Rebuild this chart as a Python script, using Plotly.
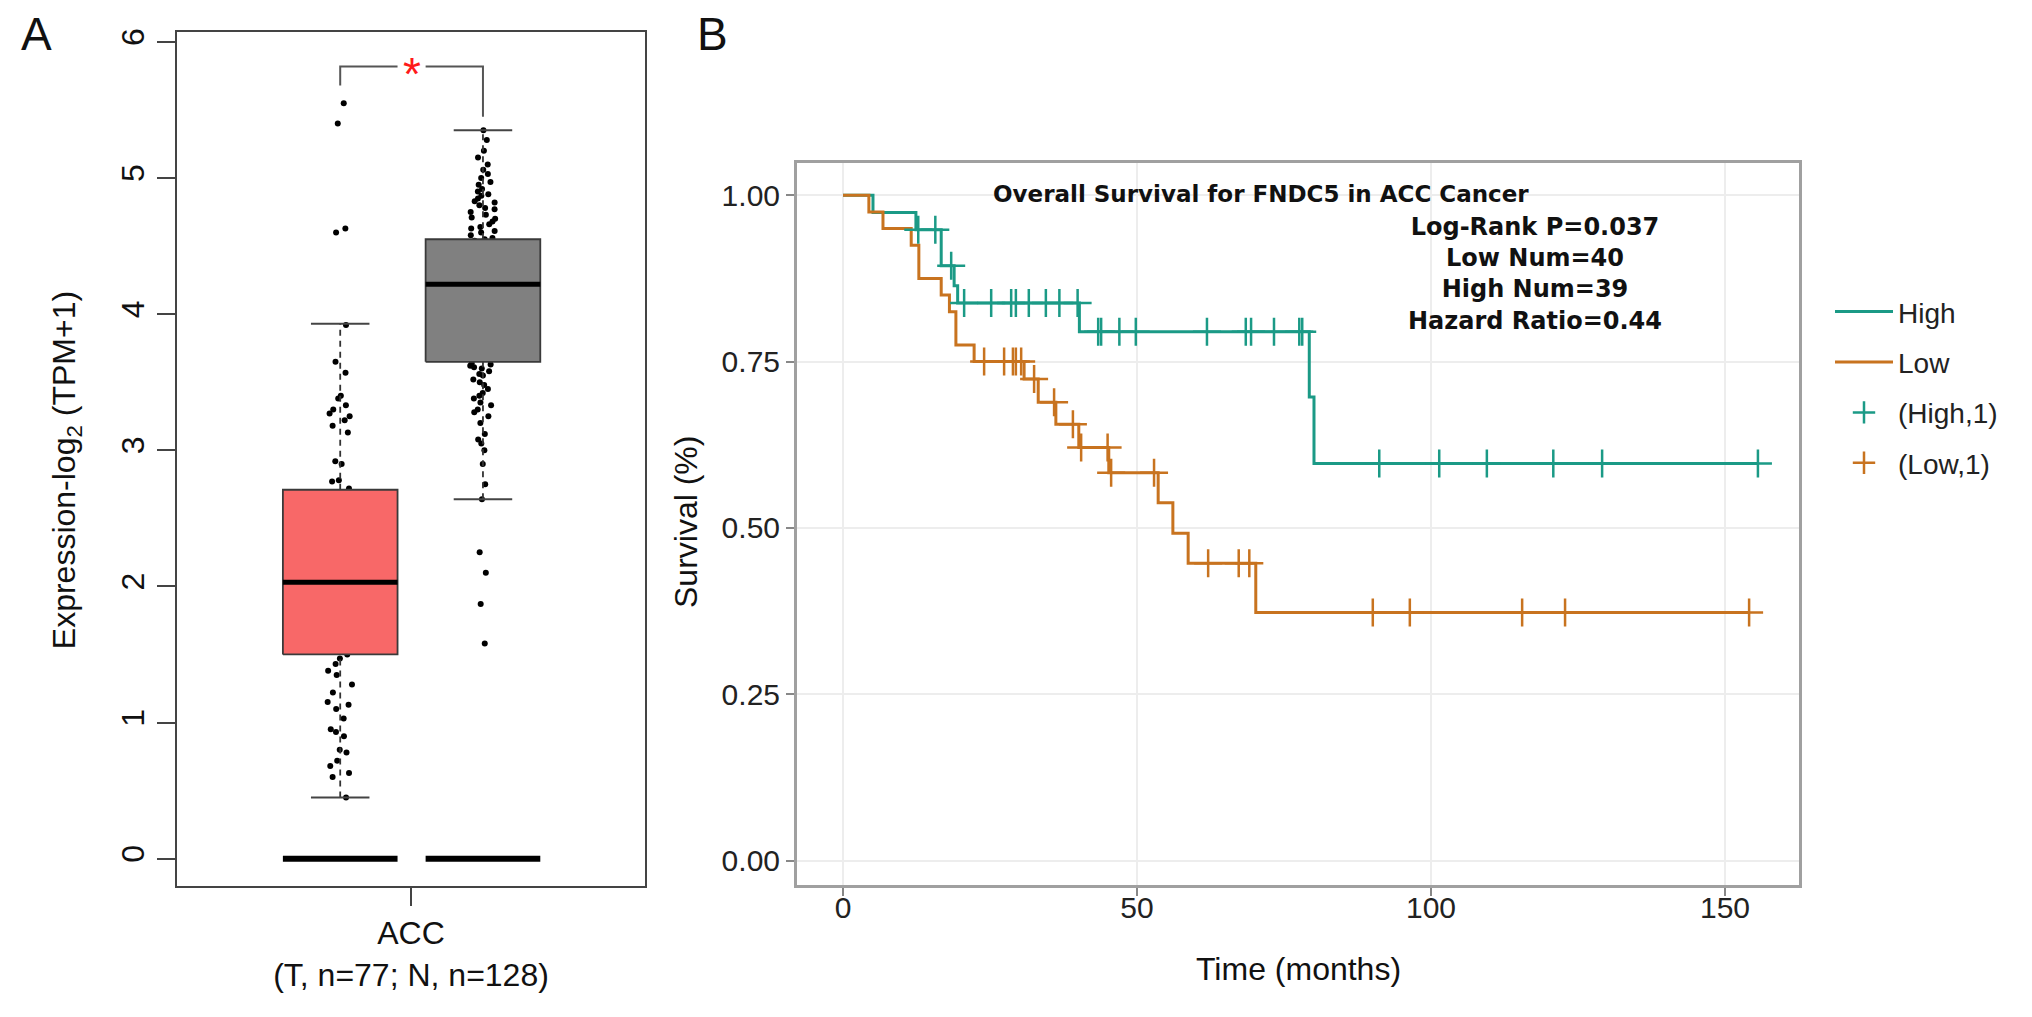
import plotly.graph_objects as go

W, H = 2032, 1017

# ---------------- Panel A data (expression box plot) ----------------
group_names = ["Tumor", "Normal"]
box_q1 = [1.50, 3.65]
box_median = [2.03, 4.22]
box_q3 = [2.71, 4.55]
whisker_low = [0.45, 2.64]
whisker_high = [3.93, 5.35]
zero_level = [0.0, 0.0]
box_fill = ["#F86868", "#808080"]

tumor_points = [0.45, 0.60, 0.63, 0.68, 0.72, 0.78, 0.80, 0.90, 0.93, 0.95,
                1.03, 1.10, 1.13, 1.15, 1.22, 1.28, 1.35, 1.38, 1.43, 1.47,
                1.50, 1.52, 1.55, 1.58, 1.60, 1.62, 1.63, 1.68, 1.72, 1.75,
                1.80, 1.82, 1.85, 1.88, 1.90, 1.92, 1.93, 1.97, 2.02,
                2.05, 2.07, 2.10, 2.15, 2.18, 2.22, 2.25, 2.28, 2.30, 2.35,
                2.38, 2.42, 2.45, 2.50, 2.58, 2.62, 2.68,
                2.72, 2.77, 2.78, 2.90, 2.92, 3.13, 3.18, 3.22, 3.25, 3.27,
                3.30, 3.33, 3.38, 3.40, 3.57, 3.65, 3.92, 4.60, 4.63, 5.40, 5.55]

normal_points = [1.58, 1.87, 2.10, 2.25, 2.64, 2.75, 2.90, 3.00, 3.05, 3.08,
                 3.12, 3.20, 3.25, 3.28, 3.30, 3.33, 3.35, 3.38, 3.40, 3.42,
                 3.45, 3.48, 3.50, 3.52, 3.55, 3.56, 3.58, 3.60, 3.61, 3.62,
                 3.63, 3.64,
                 3.66, 3.67, 3.70, 3.71, 3.74, 3.77, 3.78, 3.80, 3.83, 3.85,
                 3.86, 3.88, 3.91, 3.93, 3.95, 3.96, 3.99, 4.01, 4.02, 4.05,
                 4.06, 4.08, 4.10, 4.11, 4.13, 4.15, 4.16, 4.18, 4.19, 4.20,
                 4.21, 4.22,
                 4.23, 4.23, 4.25, 4.26, 4.26, 4.28, 4.30, 4.31, 4.31, 4.33,
                 4.34, 4.36, 4.37, 4.37, 4.39, 4.40, 4.41, 4.42, 4.44, 4.44,
                 4.46, 4.47, 4.48, 4.49, 4.50, 4.50, 4.51, 4.52, 4.53, 4.53,
                 4.54, 4.55,
                 4.56, 4.58, 4.60, 4.61, 4.63, 4.64, 4.66, 4.68, 4.70, 4.71,
                 4.73, 4.75, 4.77, 4.78, 4.80, 4.82, 4.83, 4.85, 4.87, 4.88,
                 4.90, 4.92, 4.95, 4.97, 5.00, 5.03, 5.06, 5.10, 5.15, 5.20,
                 5.28, 5.35]

a_yticks = [0, 1, 2, 3, 4, 5, 6]
a_category = "ACC<br>(T, n=77; N, n=128)"
bracket_level = 5.82
bracket_left_end = 5.68
bracket_right_end = 5.45
significance = "*"

# ---------------- Panel B data (Kaplan-Meier) ----------------
high_time = [0, 5.1, 12.4, 16.7, 18.9, 19.5, 40.2, 79.3, 80.1, 155.6]
high_surv = [1.00, 0.974, 0.948, 0.894, 0.864, 0.838, 0.795, 0.697, 0.597, 0.597]
low_time = [0, 4.4, 6.8, 11.6, 12.9, 16.7, 18.1, 19.2, 22.3, 30.8, 33.2, 36.2,
            40.1, 45.2, 53.6, 56.1, 58.7, 70.2, 154.1]
low_surv = [1.00, 0.975, 0.950, 0.925, 0.875, 0.850, 0.825, 0.775, 0.750, 0.724,
            0.689, 0.656, 0.621, 0.583, 0.538, 0.492, 0.447, 0.373, 0.373]

high_cens_time = [12.8, 15.7, 18.4, 20.6, 25.2, 28.6, 29.4, 31.6, 34.5, 36.8, 39.9,
                  43.4, 43.9, 47.0, 49.8, 61.9, 68.5, 69.4, 73.3, 77.6, 78.1,
                  91.2, 101.4, 109.5, 120.8, 129.1, 155.6]
high_cens_surv = [0.948, 0.948, 0.894, 0.838, 0.838, 0.838, 0.838, 0.838, 0.838, 0.838, 0.838,
                  0.795, 0.795, 0.795, 0.795, 0.795, 0.795, 0.795, 0.795, 0.795, 0.795,
                  0.597, 0.597, 0.597, 0.597, 0.597, 0.597]
low_cens_time = [24.0, 27.4, 28.9, 29.4, 30.3, 32.5, 35.9, 39.1, 40.5, 45.0, 45.6, 52.9,
                 62.1, 67.3, 69.1, 90.1, 96.4, 115.5, 122.8, 154.1]
low_cens_surv = [0.750, 0.750, 0.750, 0.750, 0.750, 0.724, 0.689, 0.656, 0.621, 0.621,
                 0.583, 0.583, 0.447, 0.447, 0.447, 0.373, 0.373, 0.373, 0.373, 0.373]

b_xticks = [0, 50, 100, 150]
b_yticks = [0, 0.25, 0.5, 0.75, 1.0]
title_line = "Overall Survival for FNDC5 in ACC Cancer"
stats_lines = ["Log-Rank P=0.037", "Low Num=40", "High Num=39", "Hazard Ratio=0.44"]

TEAL = "#1B9A86"
ORANGE = "#C8731F"
FONT = "Liberation Sans, Arial, sans-serif"
BOLDFONT = "DejaVu Sans"

# ---------------- geometry helpers ----------------
def px(x):
    return x / W

def py(y):
    return 1 - y / H

fig = go.Figure()

# Panel A positions (data units on xaxis 0..8)
centers = [2.79, 5.23]
half_w = 0.98
cap_w = 0.50

for i in range(2):
    c = centers[i]
    fig.add_trace(go.Scatter(x=[c, c], y=[box_q3[i], whisker_high[i]], mode="lines",
                             line=dict(color="#333333", width=1.8, dash="6px,5px"),
                             showlegend=False, hoverinfo="skip", xaxis="x", yaxis="y"))
    fig.add_trace(go.Scatter(x=[c, c], y=[whisker_low[i], box_q1[i]], mode="lines",
                             line=dict(color="#333333", width=1.8, dash="6px,5px"),
                             showlegend=False, hoverinfo="skip", xaxis="x", yaxis="y"))
    for v in (whisker_low[i], whisker_high[i]):
        fig.add_trace(go.Scatter(x=[c - cap_w, c + cap_w], y=[v, v], mode="lines",
                                 line=dict(color="#444444", width=2),
                                 showlegend=False, hoverinfo="skip", xaxis="x", yaxis="y"))
    fig.add_trace(go.Scatter(x=[c - half_w, c + half_w, c + half_w, c - half_w, c - half_w],
                             y=[box_q1[i], box_q1[i], box_q3[i], box_q3[i], box_q1[i]],
                             mode="lines", fill="toself", fillcolor=box_fill[i],
                             line=dict(color="#3a3a3a", width=1.8),
                             showlegend=False, hoverinfo="skip", xaxis="x", yaxis="y"))
    fig.add_trace(go.Scatter(x=[c - half_w, c + half_w], y=[box_median[i], box_median[i]],
                             mode="lines", line=dict(color="#000000", width=5),
                             showlegend=False, hoverinfo="skip", xaxis="x", yaxis="y"))
    fig.add_trace(go.Scatter(x=[c - half_w, c + half_w], y=[zero_level[i], zero_level[i]],
                             mode="lines", line=dict(color="#000000", width=6),
                             showlegend=False, hoverinfo="skip", xaxis="x", yaxis="y"))

for i, pts in enumerate([tumor_points, normal_points]):
    fig.add_trace(go.Box(y=pts, x0=centers[i], width=0.6, boxpoints="all", jitter=1.0,
                         pointpos=0, fillcolor="rgba(0,0,0,0)",
                         line=dict(width=0, color="rgba(0,0,0,0)"),
                         marker=dict(color="#000000", size=6), showlegend=False,
                         hoverinfo="y", xaxis="x", yaxis="y", name=group_names[i]))

mid = (centers[0] + centers[1]) / 2
gap = 0.24
fig.add_trace(go.Scatter(x=[centers[0], centers[0], mid - gap],
                         y=[bracket_left_end, bracket_level, bracket_level],
                         mode="lines", line=dict(color="#555555", width=2),
                         showlegend=False, hoverinfo="skip", xaxis="x", yaxis="y"))
fig.add_trace(go.Scatter(x=[mid + gap, centers[1], centers[1]],
                         y=[bracket_level, bracket_level, bracket_right_end],
                         mode="lines", line=dict(color="#555555", width=2),
                         showlegend=False, hoverinfo="skip", xaxis="x", yaxis="y"))

# ---------------- Panel B traces ----------------
fig.add_trace(go.Scatter(x=high_time, y=high_surv, mode="lines", name="High",
                         line=dict(shape="hv", color=TEAL, width=3),
                         legendgroup="g1", xaxis="x2", yaxis="y2"))
fig.add_trace(go.Scatter(x=low_time, y=low_surv, mode="lines", name="Low",
                         line=dict(shape="hv", color=ORANGE, width=3),
                         legendgroup="g2", xaxis="x2", yaxis="y2"))
fig.add_trace(go.Scatter(x=high_cens_time, y=high_cens_surv, mode="markers", name="(High,1)",
                         marker=dict(symbol="cross-thin", size=20, color=TEAL,
                                     line=dict(width=2.5, color=TEAL)),
                         legendgroup="g3", xaxis="x2", yaxis="y2"))
fig.add_trace(go.Scatter(x=low_cens_time, y=low_cens_surv, mode="markers", name="(Low,1)",
                         marker=dict(symbol="cross-thin", size=20, color=ORANGE,
                                     line=dict(width=2.5, color=ORANGE)),
                         legendgroup="g4", xaxis="x2", yaxis="y2"))

def note(text, x, y, size, family=FONT, angle=0, weight="normal", color="#111111", align="center"):
    return dict(text=text, x=px(x), y=py(y), xref="paper", yref="paper", showarrow=False,
                xanchor="center", yanchor="middle", textangle=angle, align=align,
                font=dict(size=size, family=family, color=color, weight=weight))

annotations = [
    note("A", 28, 22, 46),
    note("B", 704, 22, 46),
    note("Expression-log<sub>2</sub> (TPM+1)", 58, 460, 32, angle=-90),
    note("Survival (%)", 678, 512, 32, angle=-90),
    note("Time (months)", 1290, 961, 32),
    note(title_line, 1253, 183, 23, family=BOLDFONT, weight="bold"),
    note("<br>".join(stats_lines), 1527, 263, 24, family=BOLDFONT, weight="bold"),
    dict(text=significance, x=mid, y=bracket_level, xref="x", yref="y", showarrow=False,
         xanchor="center", yanchor="middle", yshift=-8,
         font=dict(size=46, family=FONT, color="#FF1A1A")),
]

# axis pixel geometry
A_LEFT, A_RIGHT, A_TOP, A_BOTTOM = 169, 637, 20, 877
A_Y6, A_Y0 = 30, 850
a_unit = (A_Y0 - A_Y6) / 6.0
a_range = [-(A_BOTTOM - A_Y0) / a_unit, 6 + (A_Y6 - A_TOP) / a_unit]

B_LEFT, B_RIGHT, B_TOP, B_BOTTOM = 789, 1791, 152, 876
B_Y1, B_Y0 = 184, 852
b_unit = (B_Y0 - B_Y1)
b_yrange = [-(B_BOTTOM - B_Y0) / b_unit, 1 + (B_Y1 - B_TOP) / b_unit]
B_X0, B_X50 = 835, 1129
b_xunit = (B_X50 - B_X0) / 50.0
b_xrange = [-(B_X0 - B_LEFT) / b_xunit, (B_RIGHT - B_X0) / b_xunit]

fig.update_layout(
    width=W, height=H,
    margin=dict(l=0, r=0, t=0, b=0),
    paper_bgcolor="white", plot_bgcolor="white",
    boxmode="overlay",
    showlegend=True,
    legend=dict(x=px(1822), y=py(276), xanchor="left", yanchor="top",
                font=dict(size=28, family=FONT, color="#222222"),
                itemwidth=58,
                traceorder="grouped", tracegroupgap=11, bgcolor="rgba(0,0,0,0)"),
    annotations=annotations,
    xaxis=dict(domain=[px(A_LEFT), px(A_RIGHT)], range=[0, 8], tickvals=[4], ticktext=[a_category],
               ticks="outside", ticklen=18, tickwidth=2, tickcolor="#444444",
               showline=True, mirror=True, linecolor="#444444", linewidth=2,
               showgrid=False, zeroline=False,
               tickfont=dict(size=32, family=FONT, color="#111111"), anchor="y"),
    yaxis=dict(domain=[py(A_BOTTOM), py(A_TOP)], range=a_range, tickvals=a_yticks,
               ticks="outside", ticklen=18, tickwidth=2, tickcolor="#444444", tickangle=-90,
               showline=True, mirror=True, linecolor="#444444", linewidth=2,
               showgrid=False, zeroline=False,
               tickfont=dict(size=32, family=FONT, color="#111111"), anchor="x"),
    xaxis2=dict(domain=[px(B_LEFT), px(B_RIGHT)], range=b_xrange, tickvals=b_xticks,
                ticks="outside", ticklen=8, tickwidth=2, tickcolor="#888888",
                ticklabelstandoff=-14,
                showline=True, mirror=True, linecolor="#A0A0A0", linewidth=3,
                showgrid=True, gridcolor="#EDEDED", gridwidth=1.5, zeroline=False,
                tickfont=dict(size=30, family=FONT, color="#222222"), anchor="y2"),
    yaxis2=dict(domain=[py(B_BOTTOM), py(B_TOP)], range=b_yrange, tickvals=b_yticks,
                tickformat=".2f",
                ticks="outside", ticklen=8, tickwidth=2, tickcolor="#888888",
                showline=True, mirror=True, linecolor="#A0A0A0", linewidth=3,
                showgrid=True, gridcolor="#EDEDED", gridwidth=1.5, zeroline=False,
                tickfont=dict(size=30, family=FONT, color="#222222"), anchor="x2"),
)

fig.write_html("out.html")
